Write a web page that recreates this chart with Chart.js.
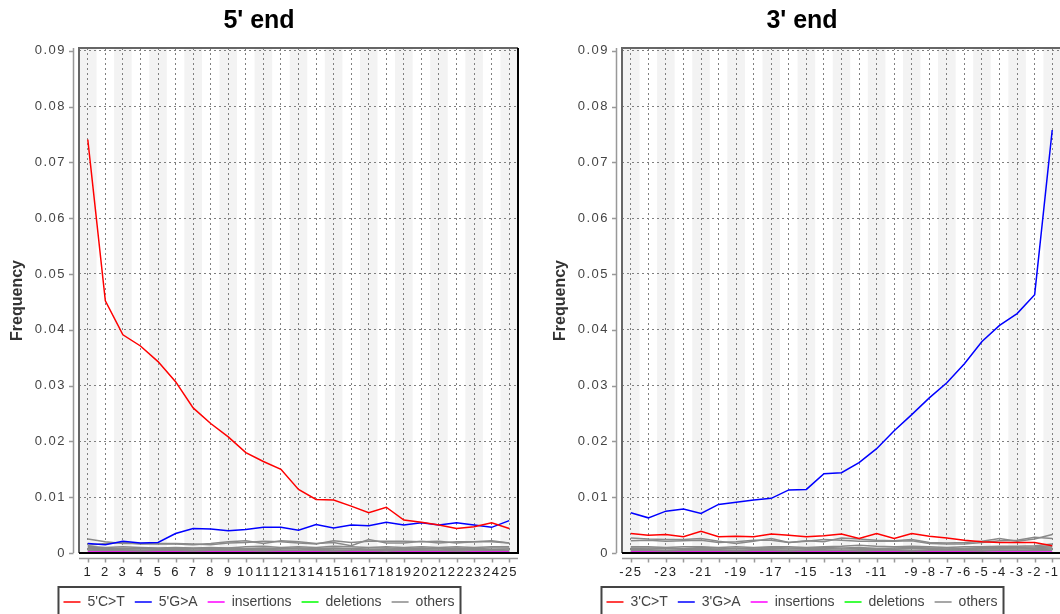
<!DOCTYPE html>
<html>
<head>
<meta charset="utf-8">
<script src="https://cdn.jsdelivr.net/npm/chart.js@4.4.1/dist/chart.umd.min.js"></script>
<style>
  html, body { margin: 0; padding: 0; background: #fff; overflow: hidden; width: 1060px; height: 614px; }
  canvas { position: absolute; top: 0; }
  #c5 { left: 0; }
  #c3 { left: 543px; }
</style>
</head>
<body>
<canvas id="c5" width="522" height="619"></canvas>
<canvas id="c3" width="522" height="619"></canvas>
<script>
// positions along the read
const pos5 = ['1','2','3','4','5','6','7','8','9','10','11','12','13','14','15','16','17','18','19','20','21','22','23','24','25'];
const pos3 = ['-25','-24','-23','-22','-21','-20','-19','-18','-17','-16','-15','-14','-13','-12','-11','-10','-9','-8','-7','-6','-5','-4','-3','-2','-1'];
const tickLabels5 = pos5;
const tickLabels3 = ['-25','','-23','','-21','','-19','','-17','','-15','','-13','','-11','','-9','-8','-7','-6','-5','-4','-3','-2','-1'];

// 5' end
const ct5 = [0.0741,0.0452,0.0391,0.0371,0.0343,0.0307,0.0260,0.0232,0.0208,0.0180,0.0164,0.0150,0.0114,0.0096,0.0095,0.0084,0.0072,0.0082,0.0059,0.0055,0.0050,0.0044,0.0047,0.0054,0.0044];
const ga5 = [0.0017,0.0015,0.0021,0.0018,0.0019,0.0035,0.0044,0.0043,0.0040,0.0042,0.0046,0.0046,0.0041,0.0051,0.0045,0.0050,0.0049,0.0055,0.0050,0.0054,0.0050,0.0054,0.0050,0.0046,0.0058];
const ins5 = [0.0002,0.0002,0.0002,0.0001,0.0002,0.0002,0.0001,0.0002,0.0002,0.0002,0.0001,0.0002,0.0002,0.0002,0.0001,0.0002,0.0002,0.0001,0.0002,0.0002,0.0002,0.0001,0.0002,0.0002,0.0002];
const del5 = [0.00004,0.00004,0.00003,0.00004,0.00004,0.00003,0.00004,0.00004,0.00003,0.00004,0.00004,0.00003,0.00004,0.00004,0.00003,0.00004,0.00004,0.00003,0.00004,0.00004,0.00003,0.00004,0.00004,0.00003,0.00004];
const others5 = [
  [0.0025,0.0020,0.0017,0.0017,0.0016,0.0016,0.0015,0.0017,0.0020,0.0022,0.0017,0.0022,0.0020,0.0017,0.0019,0.0013,0.0024,0.0018,0.0018,0.0021,0.0018,0.0020,0.0020,0.0022,0.0018],
  [0.0014,0.0017,0.0019,0.0016,0.0017,0.0017,0.0016,0.0015,0.0018,0.0019,0.0021,0.0020,0.0018,0.0016,0.0022,0.0019,0.0021,0.0021,0.0021,0.0020,0.0021,0.0018,0.0020,0.0020,0.0018],
  [0.0012,0.0010,0.0011,0.0010,0.0009,0.0010,0.0009,0.0010,0.0009,0.0011,0.0012,0.0010,0.0011,0.0010,0.0012,0.0011,0.0010,0.0011,0.0010,0.0011,0.0010,0.0011,0.0010,0.0011,0.0011],
  [0.0010,0.0009,0.0008,0.0009,0.0008,0.0009,0.0008,0.0008,0.0009,0.0008,0.0009,0.0008,0.0009,0.0008,0.0009,0.0008,0.0009,0.0009,0.0008,0.0009,0.0008,0.0009,0.0008,0.0009,0.0009],
  [0.0008,0.0008,0.0007,0.0007,0.0007,0.0006,0.0007,0.0007,0.0006,0.0007,0.0006,0.0007,0.0007,0.0006,0.0007,0.0007,0.0006,0.0007,0.0006,0.0007,0.0007,0.0006,0.0007,0.0006,0.0007],
  [0.0007,0.0006,0.0006,0.0005,0.0006,0.0005,0.0005,0.0006,0.0005,0.0005,0.0006,0.0005,0.0005,0.0006,0.0005,0.0005,0.0006,0.0005,0.0005,0.0006,0.0005,0.0005,0.0006,0.0005,0.0005],
  [0.0005,0.0005,0.0004,0.0004,0.0004,0.0004,0.0004,0.0004,0.0004,0.0003,0.0004,0.0004,0.0003,0.0004,0.0004,0.0003,0.0004,0.0004,0.0003,0.0004,0.0004,0.0003,0.0004,0.0004,0.0004],
  [0.0004,0.0003,0.0003,0.0003,0.0003,0.0003,0.0003,0.0002,0.0003,0.0003,0.0003,0.0003,0.0002,0.0003,0.0003,0.0003,0.0003,0.0002,0.0003,0.0003,0.0003,0.0003,0.0002,0.0003,0.0003]
];

// 3' end
const ct3 = [0.0035,0.0032,0.0033,0.0029,0.0039,0.0029,0.0030,0.0029,0.0034,0.0032,0.0029,0.0031,0.0034,0.0026,0.0035,0.0026,0.0035,0.0030,0.0027,0.0023,0.0020,0.0019,0.0019,0.0019,0.0013];
const ga3 = [0.0072,0.0063,0.0075,0.0079,0.0071,0.0087,0.0091,0.0095,0.0098,0.0113,0.0114,0.0142,0.0144,0.0162,0.0187,0.0219,0.0248,0.0278,0.0305,0.0339,0.0379,0.0408,0.0429,0.0463,0.0758];
const ins3 = [0.0002,0.0002,0.0001,0.0002,0.0002,0.0002,0.0001,0.0002,0.0002,0.0001,0.0002,0.0002,0.0002,0.0001,0.0002,0.0002,0.0001,0.0002,0.0002,0.0002,0.0001,0.0002,0.0002,0.0002,0.0002];
const del3 = [0.00004,0.00003,0.00004,0.00004,0.00003,0.00004,0.00004,0.00003,0.00004,0.00004,0.00003,0.00004,0.00004,0.00003,0.00004,0.00004,0.00003,0.00004,0.00004,0.00003,0.00004,0.00004,0.00003,0.00004,0.00004];
const others3 = [
  [0.0027,0.0025,0.0024,0.0024,0.0026,0.0021,0.0017,0.0021,0.0026,0.0019,0.0022,0.0020,0.0027,0.0025,0.0023,0.0022,0.0024,0.0019,0.0018,0.0019,0.0021,0.0026,0.0021,0.0025,0.0033],
  [0.0022,0.0023,0.0021,0.0022,0.0023,0.0019,0.0020,0.0023,0.0023,0.0019,0.0021,0.0024,0.0023,0.0021,0.0021,0.0021,0.0022,0.0017,0.0016,0.0016,0.0019,0.0022,0.0023,0.0028,0.0026],
  [0.0011,0.0011,0.0010,0.0011,0.0011,0.0010,0.0011,0.0010,0.0011,0.0011,0.0010,0.0011,0.0012,0.0014,0.0012,0.0011,0.0012,0.0011,0.0010,0.0011,0.0011,0.0012,0.0012,0.0013,0.0016],
  [0.0009,0.0009,0.0009,0.0008,0.0010,0.0009,0.0008,0.0009,0.0010,0.0009,0.0009,0.0010,0.0009,0.0010,0.0008,0.0009,0.0010,0.0009,0.0009,0.0008,0.0010,0.0010,0.0010,0.0011,0.0013],
  [0.0008,0.0007,0.0008,0.0007,0.0008,0.0007,0.0008,0.0007,0.0008,0.0007,0.0008,0.0008,0.0007,0.0008,0.0008,0.0007,0.0008,0.0008,0.0007,0.0008,0.0008,0.0008,0.0009,0.0009,0.0011],
  [0.0006,0.0006,0.0005,0.0006,0.0006,0.0006,0.0005,0.0006,0.0006,0.0005,0.0006,0.0006,0.0005,0.0006,0.0006,0.0006,0.0005,0.0006,0.0006,0.0006,0.0007,0.0007,0.0007,0.0008,0.0009],
  [0.0004,0.0004,0.0004,0.0004,0.0004,0.0004,0.0004,0.0004,0.0004,0.0004,0.0004,0.0004,0.0004,0.0004,0.0004,0.0004,0.0004,0.0004,0.0004,0.0005,0.0005,0.0005,0.0005,0.0006,0.0007],
  [0.0003,0.0003,0.0003,0.0003,0.0003,0.0003,0.0003,0.0003,0.0003,0.0003,0.0003,0.0003,0.0003,0.0003,0.0003,0.0003,0.0003,0.0003,0.0003,0.0003,0.0003,0.0004,0.0004,0.0004,0.0005]
];

Chart.defaults.font.family = '"Liberation Sans", Arial, Helvetica, sans-serif';

// stripes, plot box, offset axes and legend frame
const framePlugin = {
  id: 'frame',
  beforeDraw(chart) {
    const { ctx, chartArea: a, scales: { x } } = chart;
    ctx.letterSpacing = '0px';
    const w = (a.right - a.left) / chart.data.labels.length;
    ctx.save();
    ctx.fillStyle = '#f3f3f3';
    chart.data.labels.forEach((l, i) => {
      if (i % 2 === 0) {
        const cx = x.getPixelForTick(i);
        ctx.fillRect(cx - w / 2, a.top, w, a.bottom - a.top);
      }
    });
    ctx.restore();
  },
  beforeDatasetsDraw(chart) {
    // tick labels (z:1) are drawn after the datasets
    chart.ctx.letterSpacing = '1.5px';
  },
  afterDraw(chart) {
    const { ctx, chartArea: a, scales: { x, y } } = chart;
    ctx.letterSpacing = '0px';
    ctx.save();
    // plot box
    ctx.lineWidth = 2;
    ctx.strokeStyle = '#666';
    ctx.beginPath();
    ctx.moveTo(a.left, a.bottom); ctx.lineTo(a.left, a.top); ctx.lineTo(a.right, a.top);
    ctx.stroke();
    ctx.strokeStyle = '#000';
    ctx.beginPath();
    ctx.moveTo(a.right, a.top); ctx.lineTo(a.right, a.bottom); ctx.lineTo(a.left, a.bottom);
    ctx.stroke();

    // offset axes
    ctx.lineWidth = 1.5;
    ctx.strokeStyle = '#999';
    const ax = a.left - 5.5;
    ctx.beginPath();
    ctx.moveTo(ax, a.top); ctx.lineTo(ax, a.bottom);
    y.ticks.forEach(t => {
      const py = Math.round(y.getPixelForValue(t.value)) + 0.5;
      ctx.moveTo(a.left - 10, py); ctx.lineTo(ax, py);
    });
    const ay = a.bottom + 5.5;
    ctx.moveTo(a.left, ay); ctx.lineTo(a.right, ay);
    chart.data.labels.forEach((l, i) => {
      const px = Math.round(x.getPixelForTick(i)) + 0.5;
      ctx.moveTo(px, ay); ctx.lineTo(px, ay + 4);
    });
    ctx.stroke();

    // legend frame
    const lg = chart.legend;
    const hb = lg.legendHitBoxes;
    const l = Math.min(...hb.map(h => h.left)) - 5;
    const r = Math.max(...hb.map(h => h.left + h.width)) + 6;
    ctx.lineWidth = 2;
    ctx.strokeStyle = '#444';
    ctx.strokeRect(l, lg.top + 2, r - l, 40);
    ctx.restore();
  }
};

function line(label, data, color) {
  return { label, data, borderColor: color, backgroundColor: color, borderWidth: 1.5, pointRadius: 0, tension: 0, fill: false };
}

function makeChart(id, title, labels, tickLabels, ct, ga, ins, del, others, prefix) {
  const datasets = [
    line(prefix + 'C>T', ct, '#ff0000'),
    line(prefix + 'G>A', ga, '#0000ff'),
    line('insertions', ins, '#ff00ff'),
    line('deletions', del, '#00ff00')
  ];
  others.forEach(o => datasets.push(line('others', o, '#8a8a8a')));

  new Chart(document.getElementById(id), {
    type: 'line',
    data: { labels, datasets },
    options: {
      responsive: false,
      animation: false,
      layout: { padding: { left: 0, right: 4, top: 0, bottom: 0 } },
      plugins: {
        title: {
          display: true, text: title, color: '#000',
          font: { size: 25, weight: 'bold' },
          padding: { top: 6, bottom: 12 }
        },
        legend: {
          position: 'bottom',
          labels: {
            usePointStyle: true, pointStyle: 'line', pointStyleWidth: 17,
            color: '#444', font: { size: 14 }, padding: 10,
            filter: item => item.datasetIndex < 5
          }
        },
        tooltip: { enabled: false }
      },
      scales: {
        x: {
          type: 'category',
          offset: true,
          afterFit: s => { s.height = 32; },
          grid: { color: '#808080', lineWidth: 1, drawTicks: true, tickLength: 9, tickColor: 'rgba(0,0,0,0)' },
          border: { display: false, dash: [2, 3] },
          ticks: {
            z: 1, autoSkip: false, maxRotation: 0, minRotation: 0, padding: 3,
            color: '#222', font: { size: 13 },
            callback: (v, i) => tickLabels[i]
          }
        },
        y: {
          min: 0, max: 0.0905,
          afterFit: s => { s.width = 79; },
          title: {
            display: true, text: 'Frequency', color: '#333',
            font: { size: 16, weight: 'bold' },
            padding: { top: 8, bottom: 0 }
          },
          grid: { color: '#808080', lineWidth: 1, drawTicks: true, tickLength: 10, tickColor: 'rgba(0,0,0,0)' },
          border: { display: false, dash: [2, 3] },
          ticks: {
            z: 1, stepSize: 0.01, includeBounds: false, padding: 3,
            color: '#444', font: { size: 13 },
            callback: v => (v === 0 ? '0' : v.toFixed(2))
          }
        }
      }
    },
    plugins: [framePlugin]
  });
}

makeChart('c5', "5' end", pos5, tickLabels5, ct5, ga5, ins5, del5, others5, "5'");
makeChart('c3', "3' end", pos3, tickLabels3, ct3, ga3, ins3, del3, others3, "3'");
</script>
</body>
</html>
